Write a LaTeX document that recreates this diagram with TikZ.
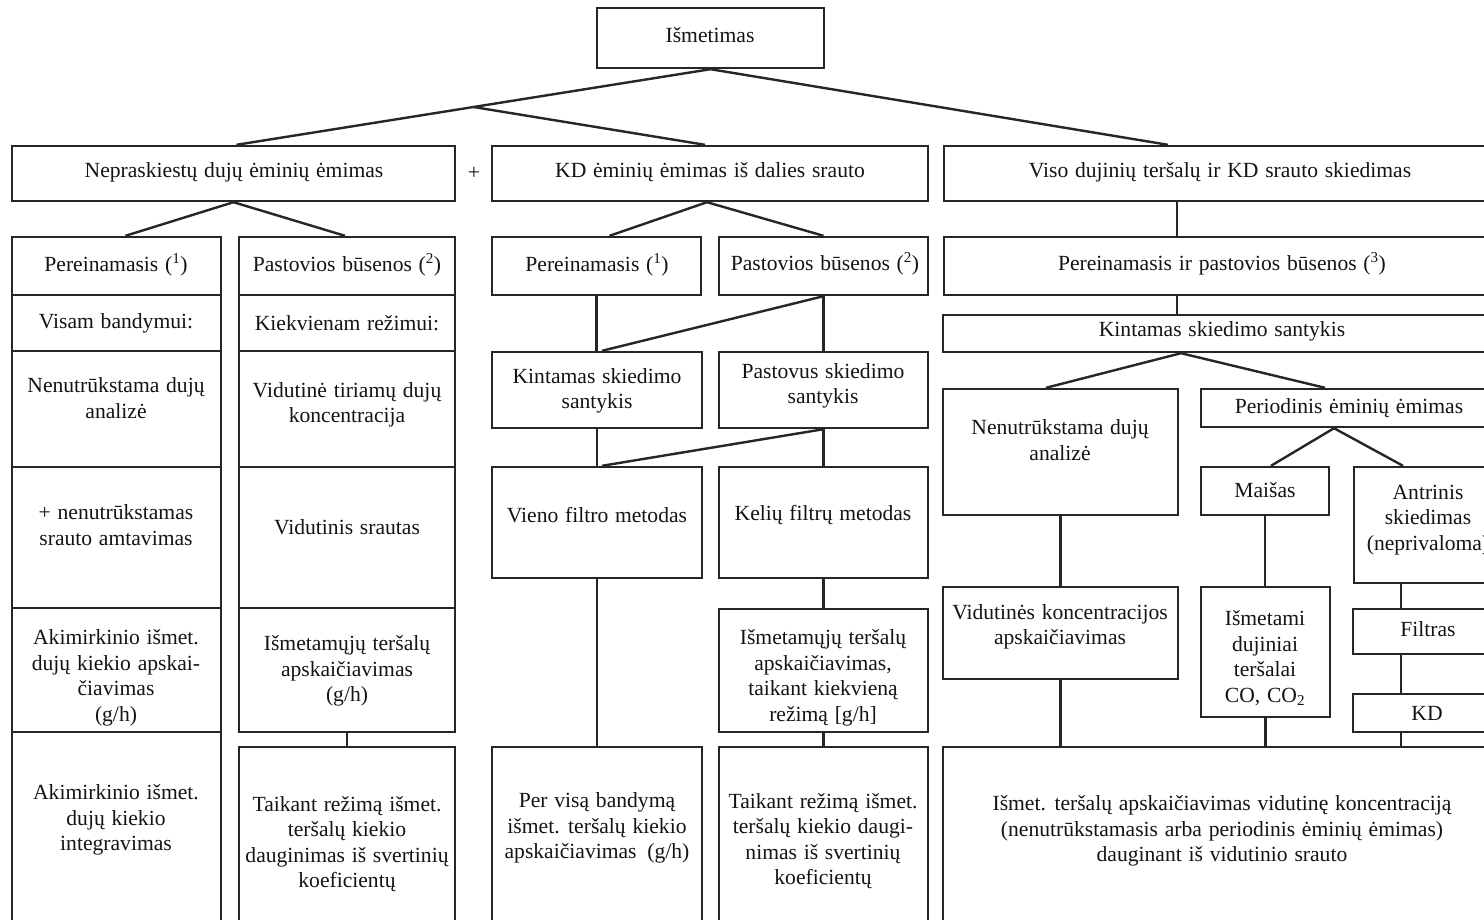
\documentclass[tikz,border=0pt]{standalone}
\usepackage{fontspec}
\setmainfont{Liberation Serif}[WordSpace=1.25]
\usetikzlibrary{fit,calc}
\definecolor{ink}{HTML}{262626}
\definecolor{txtc}{HTML}{141414}
% \panel{name}{x1}{y1}{x2}{y2}{text x}{text y}{text}
\newcommand\panel[8]{%
  \node[box, fit={(#2,#3)(#4,#5)}] (#1) {};
  \node[lbl] (#1-t) at (#6,#7) {#8};}
\begin{document}
\begin{tikzpicture}[x=1pt,y=-1pt,
  box/.style={draw=ink, line width=2.4pt, inner sep=0pt},
  lbl/.style={text=txtc, align=center, inner sep=0pt,
    font=\fontsize{21.6}{25.5}\selectfont},
  link/.style={draw=ink, line width=2.4pt}]
\fill[white] (0,0) rectangle (1484,919);
\clip (0,0) rectangle (1484,919);

% top level
\panel{ism}{597}{8}{824}{68}{710}{35}{Išmetimas}
\panel{nep}{12}{146}{455}{201}{234}{172}{Nepraskiestų dujų ėminių ėmimas}
\node[lbl] (plus) at (474,173) {+};
\panel{kd}{492}{146}{928}{201}{710}{172}{KD ėminių ėmimas iš dalies srauto}
\panel{viso}{944}{146}{1500}{201}{1220}{172}{Viso dujinių teršalų ir KD srauto skiedimas}

% second level
\panel{lp1}{12}{237}{221}{295}{116}{265}{Pereinamasis (\textsuperscript{1})}
\panel{lp2}{239}{237}{455}{295}{347}{265}{Pastovios būsenos (\textsuperscript{2})}
\panel{mp1}{492}{237}{701}{295}{597}{265}{Pereinamasis (\textsuperscript{1})}
\panel{mp2}{719}{237}{928}{295}{825}{264}{Pastovios būsenos (\textsuperscript{2})}
\panel{rp}{944}{237}{1500}{295}{1222}{264}{Pereinamasis ir pastovios būsenos (\textsuperscript{3})}

% left column: transient
\panel{la1}{12}{295}{221}{351}{116}{323}{Visam bandymui:}
\panel{la2}{12}{351}{221}{467}{116}{398}{Nenutrūkstama dujų\\analizė}
\panel{la3}{12}{467}{221}{608}{116}{525}{+ nenutrūkstamas\\srauto amtavimas}
\panel{la4}{12}{608}{221}{732}{116}{678}{Akimirkinio išmet.\\dujų kiekio apskai-\\čiavimas\\(g/h)}
\panel{la5}{12}{732}{221}{930}{116}{820}{Akimirkinio išmet.\\dujų kiekio\\integravimas}

% left column: steady state
\panel{lb1}{239}{295}{455}{351}{347}{323}{Kiekvienam režimui:}
\panel{lb2}{239}{351}{455}{467}{347}{405}{Vidutinė tiriamų dujų\\koncentracija}
\panel{lb3}{239}{467}{455}{608}{347}{527}{Vidutinis srautas}
\panel{lb4}{239}{608}{455}{732}{347}{671}{Išmetamųjų teršalų\\apskaičiavimas\\(g/h)}
\panel{lb5}{239}{747}{455}{930}{347}{844}{Taikant režimą išmet.\\teršalų kiekio\\dauginimas iš svertinių\\koeficientų}

% middle: partial flow
\panel{mk}{492}{352}{702}{428}{597}{391}{Kintamas skiedimo\\santykis}
\panel{ms}{719}{352}{928}{428}{823}{386}{Pastovus skiedimo\\santykis}
\panel{mv}{492}{467}{702}{578}{597}{515}{Vieno filtro metodas}
\panel{mf}{719}{467}{928}{578}{823}{515}{Kelių filtrų metodas}
\panel{mi}{719}{609}{928}{732}{823}{678}{Išmetamųjų teršalų\\apskaičiavimas,\\taikant kiekvieną\\režimą [g/h]}
\panel{mper}{492}{747}{702}{930}{597}{828}{Per visą bandymą\\išmet. teršalų kiekio\\apskaičiavimas\enspace(g/h)}
\panel{mtai}{719}{747}{928}{930}{823}{841}{Taikant režimą išmet.\\teršalų kiekio daugi-\\nimas iš svertinių\\koeficientų}

% right: full flow dilution
\panel{rk}{943}{315}{1500}{352}{1222}{331}{Kintamas skiedimo santykis}
\panel{rn}{943}{389}{1178}{515}{1060}{440}{Nenutrūkstama dujų\\analizė}
\panel{rper}{1201}{389}{1500}{427}{1349}{408}{Periodinis ėminių ėmimas}
\panel{rmai}{1201}{467}{1329}{515}{1265}{490}{Maišas}
\panel{rant}{1354}{467}{1500}{583}{1428}{520}{Antrinis\\skiedimas\\(neprivaloma)}
\panel{rvid}{943}{587}{1178}{679}{1060}{627}{Vidutinės koncentracijos\\apskaičiavimas}
\panel{rism}{1201}{587}{1330}{717}{1265}{658}{Išmetami\\dujiniai\\teršalai\\CO, CO\textsubscript{2}}
\panel{rfil}{1353}{609}{1500}{654}{1428}{629}{Filtras}
\panel{rkd}{1353}{694}{1500}{732}{1427}{713}{KD}
\panel{rbig}{943}{747}{1500}{930}{1222}{831}{Išmet. teršalų apskaičiavimas vidutinę koncentraciją\\(nenutrūkstamasis arba periodinis ėminių ėmimas)\\dauginant iš vidutinio srauto}

% vertical guide lines for the right-hand branches
\coordinate (cv) at (1177,0);
\coordinate (ax) at (1401,0);

% connectors: top level
\draw[link] (ism.south) -- ([xshift=3pt]nep.north)
  coordinate[pos=0.5] (j0);
\draw[link] (j0) -- ([xshift=-5pt]kd.north);
\draw[link] (ism.south) -- ([xshift=-54pt]viso.north);

% connectors: left
\draw[link] ([xshift=9pt]lp1.north) -- (nep.south) -- ([xshift=-2pt]lp2.north);
\draw[link] (lb4.south) -- (lb5.north);

% connectors: middle
\draw[link] ([xshift=13pt]mp1.north) -- ([xshift=-3pt]kd.south) -- (mp2.north);
\draw[link] (mp1.south) -- (mk.north -| mp1.south);
\draw[link] (mp2.south) -- (ms.north);
\draw[link] (mp2.south) -- ([xshift=5pt]mk.north);
\draw[link] (mk.south) -- (mv.north);
\draw[link] (ms.south) -- ([xshift=5pt]mv.north);
\draw[link] (ms.south) -- (mf.north);
\draw[link] (mv.south) -- (mper.north);
\draw[link] (mf.south) -- (mi.north);
\draw[link] (mi.south) -- (mtai.north);

% connectors: right
\draw[link] (viso.south -| cv) -- (rp.north -| cv);
\draw[link] (rp.south -| cv) -- (rk.north -| cv);
\draw[link] ([xshift=-14.5pt]rn.north) -- ([xshift=-40.5pt]rk.south) -- ([xshift=-25.5pt]rper.north);
\draw[link] ([xshift=6pt]rmai.north) -- ([xshift=-16.5pt]rper.south) -- ([xshift=-24pt]rant.north);
\draw[link] (rn.south) -- (rvid.north);
\draw[link] (rmai.south) -- (rism.north -| rmai.south);
\draw[link] (rant.south -| ax) -- (rfil.north -| ax);
\draw[link] (rfil.south -| ax) -- (rkd.north -| ax);
\draw[link] (rkd.south -| ax) -- (rbig.north -| ax);
\draw[link] (rvid.south) -- (rbig.north -| rvid.south);
\draw[link] (rism.south) -- (rbig.north -| rism.south);
\end{tikzpicture}
\end{document}
